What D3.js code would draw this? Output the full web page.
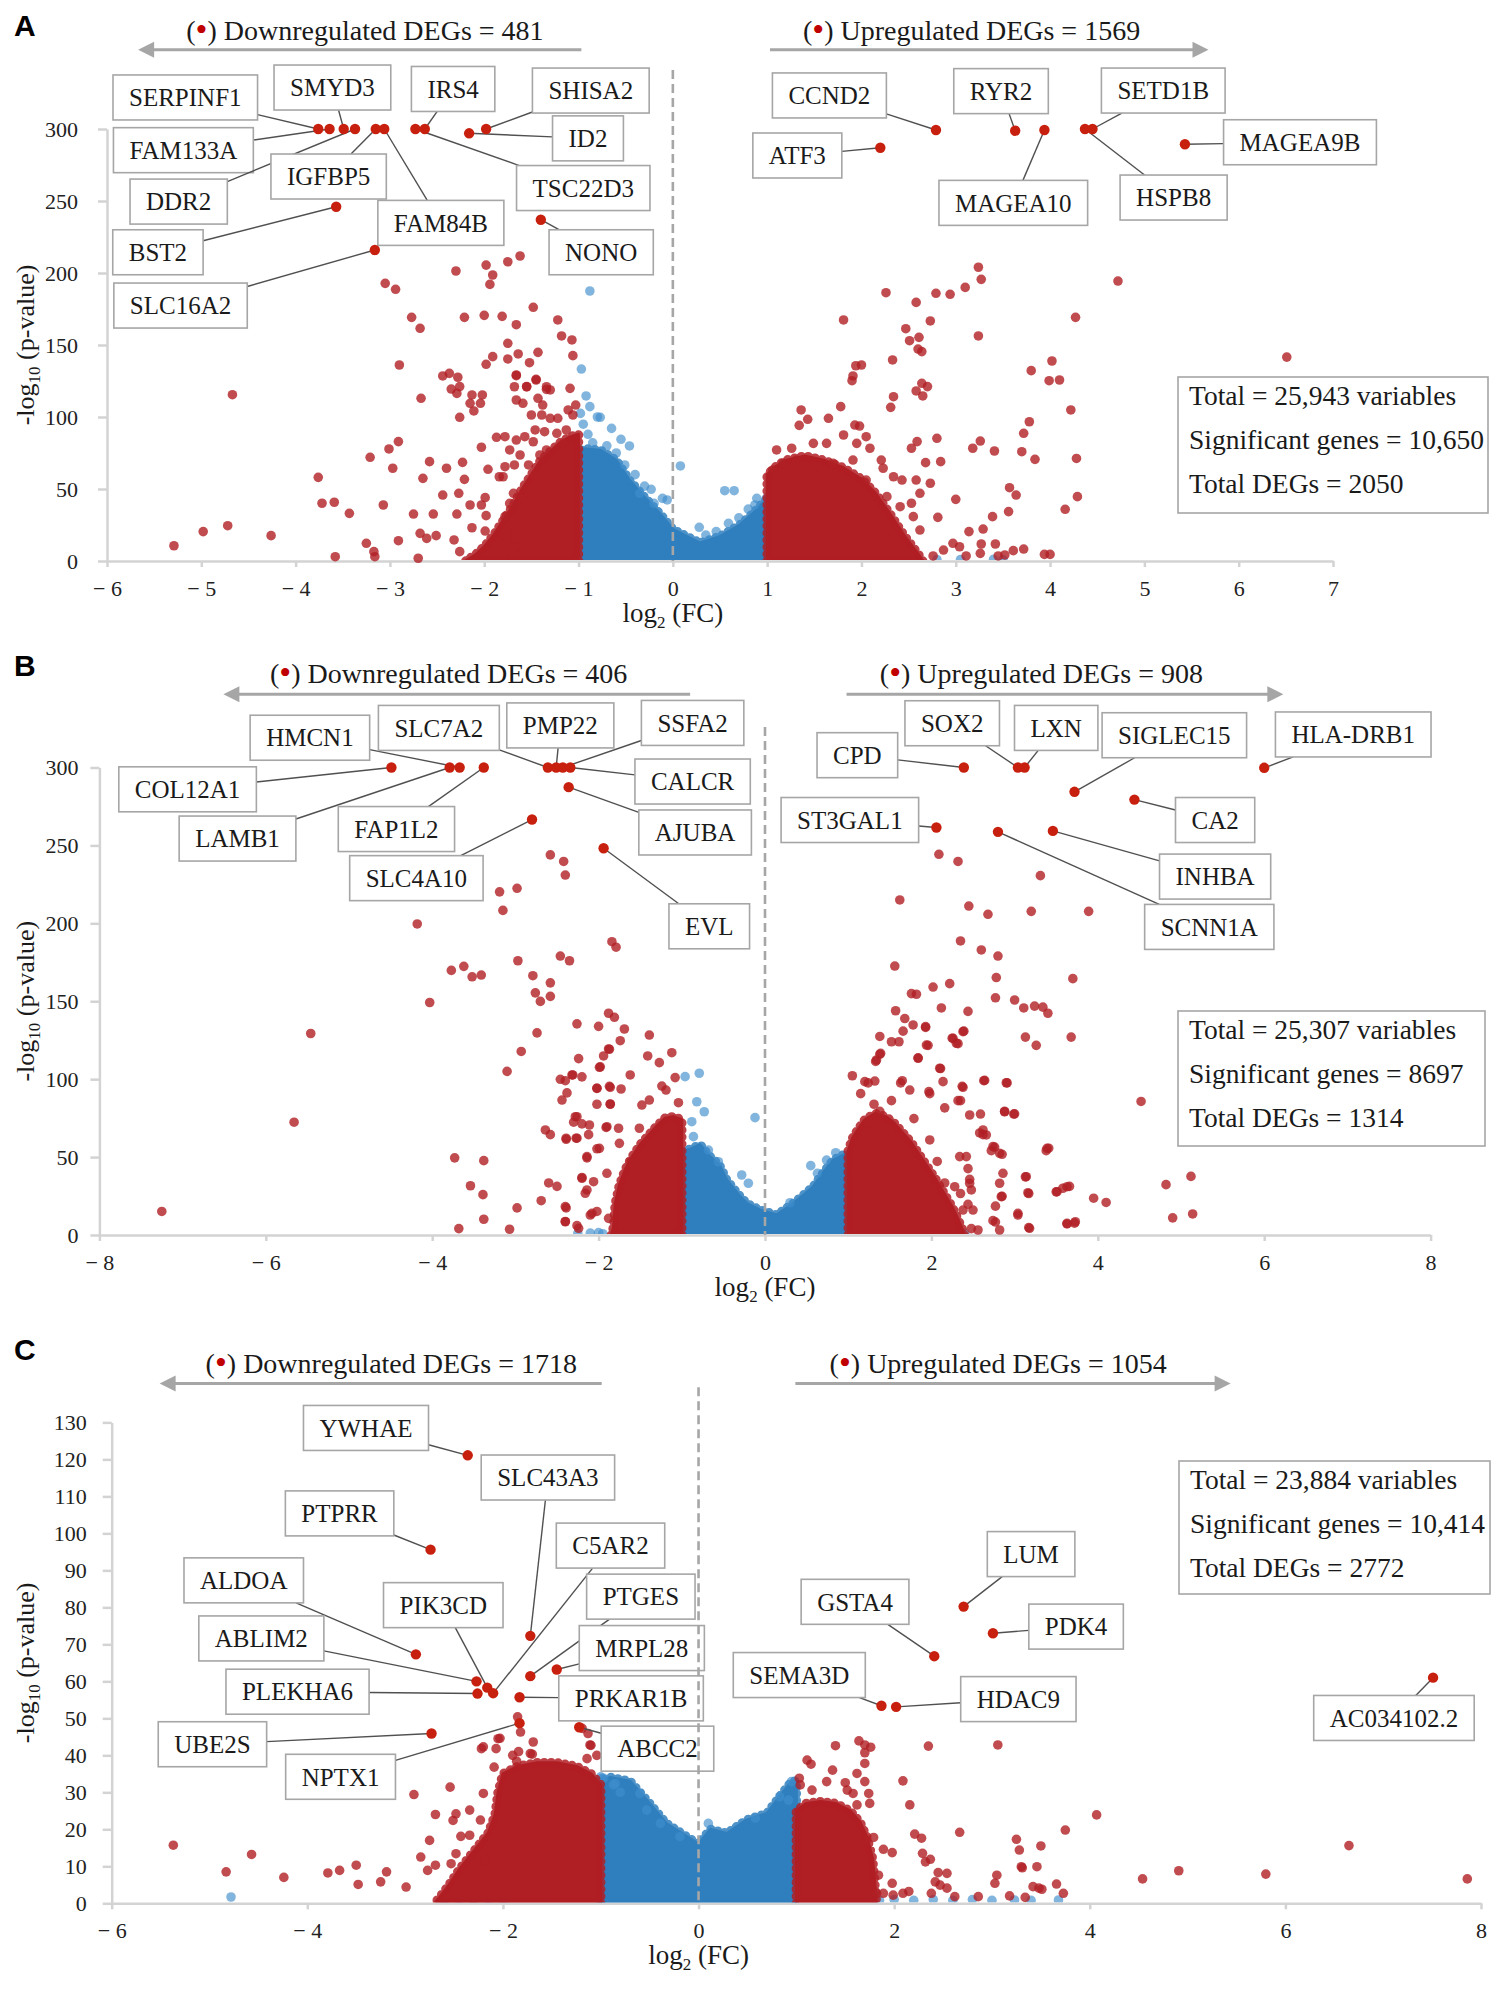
<!DOCTYPE html>
<html>
<head>
<meta charset="utf-8">
<script src="https://cdn.jsdelivr.net/npm/d3@7"></script>
<style>
  body { margin: 0; background: #fff; }
</style>
</head>
<body>
<svg id="chart" width="1507" height="1990"></svg>
<script>
// ---------------- panel A ----------------
var xDomainA = [-6, 7];
var yDomainA = [0, 300];
var xTicksA = [-6, -5, -4, -3, -2, -1, 0, 1, 2, 3, 4, 5, 6, 7];
var yTicksA = [0, 50, 100, 150, 200, 250, 300];
var titlesA = ["Downregulated DEGs = 481", "Upregulated DEGs = 1569"];
var titleAtA = [[-5.16, 362], [1.38, 362]];
var arrowsA = [[-0.97, -5.67, 355], [1.03, 5.68, 355]];
var statsA = ["Total = 25,943 variables", "Significant genes = 10,650", "Total DEGs = 2050"];
var dashTopA = 341;
var blueZoneA = [[-1, 0], [-1, 75], [-0.95, 78], [-0.77, 77], [-0.6, 70], [-0.46, 56], [-0.31, 45], [-0.14, 33], [0, 22],
  [0.15, 17], [0.29, 12.5], [0.5, 17], [0.71, 25], [0.85, 33], [0.98, 42], [1, 42], [1, 0]];
var redZoneLeftA = [[-1, 0], [-1, 88], [-1.1, 86], [-1.2, 82], [-1.3, 76], [-1.4, 70], [-1.5, 60], [-1.6, 50], [-1.7, 38],
  [-1.8, 28], [-1.9, 18], [-2.0, 10], [-2.1, 4], [-2.2, 0]];
var redZoneRightA = [[1, 0], [1, 60], [1.1, 66], [1.2, 70], [1.4, 73], [1.6, 70], [1.8, 65], [2.0, 57], [2.15, 47], [2.3, 33],
  [2.45, 18], [2.6, 5], [2.65, 0]];
var redDotsA = [[-3.05, 192.8], [-2.94, 188.7], [-2.77, 169.2], [-2.68, 161.6], [-2.90, 136.1], [-2.30, 201.4], [-1.98, 205.5],
  [-1.91, 198.6], [-1.94, 192.1], [-1.75, 207.8], [-1.62, 211.8], [-2.21, 169.2], [-2.00, 170.6], [-1.81, 169.9], [-1.66, 164.1],
  [-1.48, 176.2], [-1.22, 167.4], [-1.18, 156.3], [-1.07, 153.5], [-1.06, 142.6], [-1.75, 151.2], [-1.91, 141.9], [-1.98, 136.6],
  [-1.75, 140.3], [-1.64, 143.8], [-1.43, 144.9], [-1.52, 137.7], [-2.44, 128.5], [-2.37, 130.3], [-2.28, 127.6], [-2.35, 119.4],
  [-2.26, 121.1], [-2.29, 116.4], [-2.67, 113], [-2.13, 115.3], [-2.02, 115.3], [-2.15, 109.5], [-2.04, 109.5], [-2.11, 104.2],
  [-2.26, 99.8], [-1.66, 128.7], [-1.55, 121.1], [-1.45, 125.7], [-1.34, 119.2], [-1.09, 119.9], [-4.67, 115.5], [-2.91, 82.9],
  [-3.01, 77.8], [-3.21, 72], [-2.97, 64.4], [-2.58, 69], [-2.40, 64.4], [-2.23, 68.5], [-2.65, 57.4], [-2.21, 56.7], [-3.76, 58.1],
  [-3.72, 40.1], [-3.59, 40.8], [-3.43, 33.1], [-3.07, 38.9], [-2.75, 32.6], [-2.54, 32.6], [-2.44, 45.8], [-2.27, 47], [-2.29, 32.6],
  [-2.13, 23.1], [-2.68, 19.2], [-2.61, 15.7], [-2.51, 17.6], [-2.91, 14.1], [-2.32, 14.6], [-3.25, 12.3], [-3.17, 6.5], [-3.16, 3],
  [-3.58, 3], [-2.70, 1.9], [-4.26, 17.6], [-4.72, 24.5], [-4.98, 20.4], [-5.29, 10.6], [-2.03, 79], [-1.87, 85.9], [-1.96, 63.7],
  [-1.84, 58.5], [-1.99, 44], [-2.03, 38.9], [-2.15, 38.9], [-1.98, 31.5], [-1.99, 20.8], [-2.26, 6.5],
  [-1.66, 129.2], [-1.45, 126.2], [-1.68, 121], [-1.55, 121], [-1.34, 121], [-1.30, 118.8], [-1.66, 111.8], [-1.59, 109.5],
  [-1.43, 113], [-1.38, 108.3], [-1.03, 108.3], [-1.50, 101.4], [-1.39, 101.4], [-1.30, 99.1], [-1.22, 99.1], [-1.11, 104.9],
  [-1.06, 101.4], [-1.78, 86.3], [-1.66, 84], [-1.57, 86.3], [-1.46, 91], [-1.36, 89.8], [-1.23, 88.7], [-1.13, 91], [-1.48, 82.8],
  [-1.34, 77.1], [-1.41, 73.6], [-1.16, 81.7], [-1.73, 77.1], [-1.62, 73.6], [-1.78, 65.5], [-1.68, 66.7], [-1.53, 66.7],
  [-1.80, 58.5], [-1.46, 59.7], [-1.69, 47], [-1.60, 43.5], [-1.73, 40], [-1.62, 33.1], [-1.78, 30.8], [-1.69, 23.8], [-1.76, 16.9],
  [-1.68, 9.9], [-1.59, 5.3], [-1.80, 5.3],
  [3.24, 204], [3.27, 195.6], [3.10, 190], [2.94, 185.2], [2.79, 185.9], [2.26, 186.3], [2.58, 179.6], [2.73, 166.7], [1.81, 167.4],
  [2.47, 161.3], [2.51, 153], [2.61, 155.3], [2.60, 147.2], [2.64, 145.4], [3.24, 156.3], [2.33, 139.6], [1.94, 135.6], [2.00, 136.1],
  [1.91, 128.5], [1.90, 125.2], [2.64, 123.4], [2.70, 121.1], [2.58, 118.1], [2.65, 114.6], [2.34, 114.1], [2.31, 106.7], [1.78, 107.2],
  [1.36, 104.9], [1.43, 98.4], [1.34, 94.2], [1.65, 99.1], [1.93, 94.4], [1.98, 93.7], [4.27, 169.2], [4.02, 138.9], [3.80, 132.2],
  [3.99, 125.2], [4.10, 125.7], [4.22, 104.9], [3.78, 96.7], [3.72, 88.7], [3.70, 75.9], [3.84, 70.6], [3.41, 76.4], [3.26, 83.3],
  [3.18, 78.3], [2.80, 85.2], [2.59, 82.9], [2.53, 78.3], [2.68, 68.3], [2.84, 69], [3.57, 50.9], [3.64, 45.8], [4.29, 44.7],
  [4.16, 35.9], [3.56, 34.3], [3.39, 30.8], [3.00, 42.8], [2.81, 30.3], [3.29, 22.2], [3.14, 20.4], [2.97, 12.3], [3.04, 9.9],
  [3.27, 11.8], [3.42, 11.8], [3.61, 7.2], [3.72, 8.3], [2.76, 3.5], [2.87, 7.6], [3.11, 3.5], [3.45, 3.5], [3.52, 4.2], [3.94, 4.6],
  [4.00, 4.6], [3.26, 5.3], [4.72, 194.4], [6.51, 141.6], [4.28, 71.2],
  [1.10, 77.1], [1.26, 78.3], [1.49, 81.7], [1.63, 81.7], [1.81, 87.5], [1.95, 81.7], [2.05, 86.3], [2.09, 78.3], [2.21, 70.1],
  [2.23, 64.4], [2.34, 58.5], [2.43, 56.2], [1.70, 67.8], [1.49, 63.2], [1.31, 70.1], [1.91, 70.1], [2.05, 56.2], [2.27, 44.7],
  [2.41, 37.7], [2.55, 30.8], [2.62, 21.5], [2.58, 56.2], [2.73, 54], [2.62, 47], [2.53, 40.1], [1.54, 65.5], [1.06, 63.2], [1.17, 67.8]];
var blueDotsA = [[-0.88, 187.5], [-0.97, 133.3], [-0.92, 114.6], [-0.88, 107.2], [-0.77, 99.8], [-0.65, 92.1], [-0.55, 84.5],
  [-0.46, 79.9], [-0.51, 66.7], [-0.23, 49.8], [-0.35, 47], [-0.11, 43.5], [-0.06, 42.4], [0.08, 66], [0.55, 48.8], [0.65, 48.8],
  [0.28, 23.4], [0.46, 20.4], [0.59, 26.2], [0.87, 38.9], [0.89, 43.5], [0.99, 43.5], [-0.98, 102.5], [-0.8, 100], [-0.95, 95],
  [-0.9, 88], [-0.85, 82], [-0.7, 80], [-0.6, 75], [-0.4, 60], [-0.3, 52], [-0.2, 40], [0.35, 18], [0.7, 30], [0.8, 36],
  [-2.1, 1.2], [-2.0, 1.5], [-1.9, 1], [-1.75, 1.2], [-1.6, 1], [-1.5, 1.5], [2.8, 1], [3.05, 1], [3.4, 1.2], [3.5, 0.8]];
var genesA = ["SERPINF1", "FAM133A", "SMYD3", "DDR2", "IGFBP5", "FAM84B", "IRS4", "TSC22D3", "SHISA2", "ID2", "BST2",
  "SLC16A2", "NONO", "CCND2", "ATF3", "RYR2", "MAGEA10", "SETD1B", "HSPB8", "MAGEA9B"];
var geneDotsA = [[-3.76, 300], [-3.64, 300], [-3.49, 300], [-3.37, 300], [-3.15, 300], [-3.06, 300], [-2.63, 300], [-2.73, 300],
  [-1.98, 300], [-2.16, 297], [-3.57, 246], [-3.16, 216], [-1.40, 237], [2.79, 299.3], [2.20, 287], [3.63, 298.8], [3.94, 299.3],
  [4.45, 300], [4.37, 300], [5.43, 289.4]];
var geneBoxA = [[-5.17, 321.9], [-5.19, 285.3], [-3.61, 328.8], [-5.24, 249.6], [-3.65, 267], [-2.46, 234.8], [-2.33, 327.8],
  [-0.95, 259], [-0.87, 326.7], [-0.90, 293.5], [-5.46, 214.4], [-5.22, 177.4], [-0.76, 214.4], [1.66, 323.3], [1.32, 281.6],
  [3.48, 326.3], [3.61, 248.7], [5.20, 326.7], [5.31, 252.4], [6.65, 290.8]];

// ---------------- panel B ----------------
var xDomainB = [-8, 8];
var yDomainB = [0, 300];
var xTicksB = [-8, -6, -4, -2, 0, 2, 4, 6, 8];
var yTicksB = [0, 50, 100, 150, 200, 250, 300];
var titlesB = ["Downregulated DEGs = 406", "Upregulated DEGs = 908"];
var titleAtB = [[-5.95, 354], [1.38, 354]];
var arrowsB = [[-0.90, -6.51, 347], [0.98, 6.23, 347]];
var statsB = ["Total = 25,307 variables", "Significant genes = 8697", "Total DEGs = 1314"];
var dashTopB = 326;
var blueZoneB = [[-1, 0], [-1, 53.5], [-0.9, 55], [-0.78, 58], [-0.66, 50.3], [-0.55, 45], [-0.46, 35.3], [-0.32, 26], [-0.22, 20.3],
  [-0.06, 16], [0.14, 12.8], [0.34, 20.3], [0.45, 25], [0.58, 31], [0.7, 40], [0.82, 48.1], [0.94, 51.3], [1, 52], [1, 0]];
var redZoneLeftB = [[-1, 0], [-1, 74], [-1.1, 76], [-1.2, 75], [-1.3, 70], [-1.4, 64], [-1.5, 58], [-1.6, 50], [-1.68, 42],
  [-1.75, 32], [-1.8, 20], [-1.82, 5], [-1.85, 0]];
var redZoneRightB = [[1, 0], [1, 54], [1.05, 62], [1.12, 68], [1.2, 74], [1.32, 78], [1.45, 76], [1.55, 72], [1.65, 66], [1.75, 60],
  [1.85, 52], [1.95, 44], [2.05, 36], [2.15, 27], [2.25, 18], [2.33, 9], [2.4, 0]];
var redDotsB = [[-2.58, 243.9], [-2.42, 239.7], [-2.40, 231], [-3.19, 220.2], [-2.98, 222.5], [-3.15, 208.3], [-4.18, 199.6],
  [-1.84, 188.2], [-1.79, 184.7], [-2.46, 179], [-2.35, 176], [-2.97, 176], [-3.77, 169.8], [-3.52, 165.7], [-2.79, 166.4],
  [-2.58, 161.8], [-2.76, 155.4], [-2.58, 153.1], [-2.70, 149.9], [-4.03, 149.2], [-5.46, 129.3], [-1.88, 142.3], [-2.26, 135.5],
  [-2.00, 133.9], [-2.74, 129.7], [-2.93, 117.8], [-1.88, 119.4], [-2.24, 113.2], [-1.98, 107.9], [-3.10, 105], [-2.46, 99.9],
  [-2.31, 102.7], [-2.20, 101.5], [-2.38, 91.2], [-2.44, 86.6], [-2.02, 94.2], [-1.87, 95.4], [-2.02, 83.9], [-1.86, 83.9],
  [-2.26, 75.9], [-2.30, 72.4], [-2.20, 71.3], [-2.12, 64.4], [-1.91, 69], [-2.64, 67.4], [-2.58, 64.4], [-2.39, 61.4], [-2.27, 62.1],
  [-5.66, 72.4], [-3.73, 49.5], [-3.38, 47.7], [-3.54, 31.6], [-3.39, 25.9], [-2.98, 17.4], [-2.69, 22], [-2.39, 17.4], [-2.40, 8.7],
  [-3.38, 10.1], [-3.68, 4.1], [-3.07, 3.7], [-2.14, 49.5], [-2.02, 55.3], [-2.60, 33.4], [-2.50, 31.2], [-2.20, 36.9], [-2.14, 28.9],
  [-2.10, 12.8], [-2.02, 15.1], [-2.26, 6], [-7.25, 15.1],
  [-1.81, 139.7], [-1.69, 132.2], [-1.74, 124.7], [-1.39, 128.3], [-1.87, 119.2], [-1.94, 114.9], [-1.41, 114.9], [-1.27, 110.6],
  [-1.12, 117], [-1.99, 107.6], [-1.62, 102.7], [-1.08, 101], [-2.32, 102.7], [-2.02, 94.1], [-1.86, 94.8], [-1.73, 93.7],
  [-1.24, 95.6], [-1.19, 93], [-1.39, 86.6], [-1.48, 83.4], [-1.04, 84.9], [-1.86, 84.1], [-2.40, 99], [-2.28, 75.9], [-2.11, 70.6],
  [-1.90, 69.5], [-1.76, 68.5], [-1.51, 68.5], [-2.39, 62.1], [-2.26, 62.1], [-2.14, 50.3], [-1.99, 55.6], [-1.75, 58.8],
  [-1.61, 47], [-2.20, 36.4], [-2.06, 34.2], [-1.90, 39.6], [-2.16, 26.8], [-2.40, 18.2], [-2.08, 13.9], [-1.88, 10.7],
  [-2.40, 8.5], [-2.24, 4.3], [-3.62, 172.4], [-3.41, 166.8],
  [2.09, 244.3], [2.32, 239.7], [3.31, 230.6], [1.62, 215], [2.45, 211.1], [2.68, 205.8], [3.20, 207.7], [3.89, 207.7], [2.35, 188.7],
  [2.60, 182.9], [2.80, 179], [1.56, 172.6], [2.78, 165.2], [3.70, 164.5], [2.02, 159.1], [2.22, 161.3], [1.76, 154.9], [1.82, 154.5],
  [2.77, 152.2], [3.00, 150.8], [3.11, 145.7], [3.24, 146.9], [3.34, 146.2], [3.40, 142.3], [2.12, 145.7], [2.44, 143.5],
  [1.57, 143.9], [1.68, 138.9], [1.78, 134.8], [1.93, 133.2], [1.66, 130.8], [2.39, 130.8], [1.38, 127.4], [1.52, 124], [1.61, 124],
  [1.96, 121.7], [2.25, 126.3], [2.32, 122.8], [3.13, 127], [3.26, 121.7], [3.68, 127], [1.38, 116], [1.33, 111.4], [1.84, 113.7],
  [2.11, 106.8], [1.05, 102.2], [2.64, 99.2], [2.91, 97.6], [4.52, 85.7], [2.88, 79.3], [3.00, 77.7], [3.41, 55.7], [3.38, 54.1],
  [3.13, 37.3], [3.17, 26.6], [3.50, 27.7], [3.58, 30], [3.66, 31.2], [3.95, 23.6], [4.10, 20.9], [4.82, 32.3], [5.12, 37.6],
  [4.90, 11], [5.14, 13.5], [3.63, 7.1], [3.72, 7.6], [3.17, 4.8], [3.04, 12.8], [2.77, 18.5], [2.77, 8.3], [2.48, 4.1], [2.85, 24.8],
  [2.76, 56.4], [2.62, 64.4], [2.46, 77],
  [1.20, 98.4], [1.32, 98.8], [1.93, 133.7], [1.94, 121.9], [1.84, 113.4], [1.34, 112.3], [1.39, 116.6], [2.10, 107], [2.26, 126.2],
  [2.38, 130.5], [2.30, 123], [1.65, 99], [1.74, 93], [1.97, 92], [2.14, 98.4], [2.38, 94.8], [2.63, 99], [2.90, 97.7], [2.32, 86.2],
  [2.59, 77.6], [2.88, 79.1], [2.99, 77.6], [2.62, 67.4], [2.66, 64.2], [2.74, 56.7], [2.82, 52.4], [3.39, 55.6], [2.86, 39.6],
  [2.82, 33.2], [2.84, 24.6], [3.14, 37.4], [3.16, 27.1], [3.51, 27.8], [3.63, 31], [3.04, 13.9], [3.18, 4.3], [2.74, 9.2],
  [2.82, 3.2], [3.63, 7.5], [3.73, 8.5], [2.50, 16], [2.56, 3.2], [2.38, 16], [2.46, 33.2], [2.48, 28.9], [2.28, 31], [2.34, 50.3],
  [2.42, 50.3], [1.15, 90.7], [1.24, 97.6], [1.31, 83.9], [1.63, 97.6], [1.98, 90.7], [2.16, 81.6], [2.37, 95.4], [2.35, 86.2],
  [2.58, 65.5], [2.72, 54.1], [2.85, 51.8], [2.44, 42.6], [2.46, 35.7], [2.35, 26.6], [2.44, 19.7], [2.07, 47.2], [2.16, 33.4],
  [1.98, 61], [1.79, 74.7], [1.52, 86.2], [1.38, 79.3], [1.24, 72.4]];
var blueDotsB = [[-0.96, 101.6], [-0.79, 103.8], [-0.82, 85.5], [-0.73, 79.1], [-0.88, 72.7], [-0.86, 63.1], [-0.12, 75.3],
  [-0.28, 38.5], [-0.2, 33.2], [0.3, 20.7], [0.55, 44.5], [0.63, 39.6], [0.74, 48.1], [0.85, 52.8], [-0.56, 47], [-0.68, 54.5],
  [-2.25, 1], [-2.1, 1.2], [-1.95, 0.8], [-2.0, 1.5], [2.0, 1], [2.15, 1], [2.3, 1], [2.4, 0.8]];
var genesB = ["HMCN1", "COL12A1", "LAMB1", "SLC7A2", "FAP1L2", "SLC4A10", "PMP22", "SSFA2", "CALCR", "AJUBA", "EVL", "CPD",
  "SOX2", "LXN", "SIGLEC15", "HLA-DRB1", "CA2", "ST3GAL1", "SCNN1A", "INHBA"];
var geneDotsB = [[-3.67, 300], [-4.49, 300], [-3.79, 300], [-2.61, 300], [-3.38, 300], [-2.80, 266.6], [-2.51, 300], [-2.43, 300],
  [-2.34, 300], [-2.36, 287.4], [-1.94, 248.2], [2.39, 300], [3.04, 300], [3.12, 300], [3.72, 284.4], [6.0, 299.8], [4.44, 279.4],
  [2.06, 261.5], [2.80, 258.7], [3.46, 259.3]];
var geneBoxB = [[-5.47, 319.1], [-6.94, 286], [-6.34, 254.4], [-3.92, 325.4], [-4.43, 260.5], [-4.19, 229], [-2.46, 327],
  [-0.87, 328.6], [-0.87, 291], [-0.84, 258.3], [-0.67, 198.1], [1.11, 307.9], [2.25, 328.4], [3.50, 325.4], [4.92, 320.7],
  [7.07, 321.2], [5.41, 266.3], [1.02, 266.3], [5.34, 197.7], [5.41, 230]];

// ---------------- panel C ----------------
var xDomainC = [-6, 8];
var yDomainC = [0, 130];
var xTicksC = [-6, -4, -2, 0, 2, 4, 6, 8];
var yTicksC = [0, 10, 20, 30, 40, 50, 60, 70, 80, 90, 100, 110, 120, 130];
var titlesC = ["Downregulated DEGs = 1718", "Upregulated DEGs = 1054"];
var titleAtC = [[-5.04, 143.3], [1.34, 143.3]];
var arrowsC = [[-0.99, -5.51, 140.5], [0.99, 5.44, 140.5]];
var statsC = ["Total = 23,884 variables", "Significant genes = 10,414", "Total DEGs = 2772"];
var dashTopC = 139.5;
var blueZoneC = [[-1, 0], [-1, 33], [-0.9, 34], [-0.7, 33], [-0.5, 27], [-0.33, 21.6], [-0.15, 18.5], [0, 16], [0.12, 20],
  [0.29, 18.9], [0.49, 22.5], [0.7, 24.3], [0.84, 29.2], [0.95, 32.9], [1, 33], [1, 0]];
var redZoneLeftC = [[-1, 0], [-1, 32], [-1.1, 35], [-1.25, 37], [-1.45, 38], [-1.65, 38], [-1.85, 37], [-2.0, 35], [-2.05, 30],
  [-2.08, 24], [-2.15, 19], [-2.3, 14], [-2.45, 9], [-2.55, 5], [-2.65, 1.5], [-2.7, 0]];
var redZoneRightC = [[1, 0], [1, 25], [1.1, 27], [1.25, 27.5], [1.4, 27], [1.55, 25], [1.65, 22], [1.72, 18], [1.78, 12], [1.8, 6],
  [1.82, 0]];
var redDotsC = [[-5.37, 15.7], [-4.57, 13.2], [-4.83, 8.5], [-4.24, 7.0], [-3.79, 8.2], [-3.67, 8.9], [-3.5, 10.3], [-3.25, 5.8],
  [-2.91, 29.4], [-2.54, 31.4], [-2.69, 24], [-2.48, 24.2], [-2.51, 22.4], [-2.75, 17], [-2.43, 18.1], [-2.34, 18.4], [-2.84, 12.5],
  [-2.69, 10.3], [-2.48, 13.4], [-2.53, 10.7], [-2.99, 4.4], [-2.77, 8.9], [-2.17, 11.6], [-2.22, 41.8], [-2.05, 44.5],
  [-2.07, 41.8], [-2.09, 36.8], [-1.9, 40], [-1.86, 38.4], [-1.69, 43.6], [-1.70, 40.3], [-1.85, 50.4], [-1.82, 46.3],
  [-1.13, 45.9], [-1.10, 42.7], [-1.14, 39.1], [-1.04, 40], [-2.03, 44.6], [-2.2, 42.3], [-1.72, 40.5], [-1.84, 41],
  [-1.11, 42.8], [-1.19, 47.3], [-2.20, 29.7], [-2.34, 25.2], [-2.23, 22.5], [-3.48, 5.1], [-3.19, 8.5],
  [1.40, 42.6], [1.64, 43.9], [1.70, 42.8], [1.76, 42.2], [2.35, 42.5], [3.06, 42.8], [1.70, 40.7], [1.70, 37.8], [1.11, 38.7],
  [1.15, 37.6], [1.37, 36], [1.62, 35.1], [1.03, 33.8], [1.04, 32], [1.31, 32.9], [1.50, 32.6], [1.70, 32.9], [2.09, 33.1],
  [1.16, 30.6], [1.52, 30.6], [1.58, 29.7], [1.74, 29.7], [2.16, 26.6], [1.62, 26.6], [1.75, 27], [4.07, 23.9], [2.67, 19.2],
  [3.75, 19.8], [2.21, 18.7], [2.28, 17.6], [3.25, 17.3], [3.28, 14.4], [3.50, 15.5], [1.72, 17.1], [1.79, 17.8], [1.89, 14.6],
  [1.98, 13.7], [2.29, 13.5], [2.32, 11.2], [2.37, 11.9], [2.45, 8.3], [2.54, 8.1], [2.42, 5.8], [2.47, 4.9], [2.54, 4.1],
  [3.05, 7.6], [3.03, 5.4], [3.30, 9.9], [3.46, 9.9], [3.42, 4.5], [3.51, 3.8], [3.66, 5.2], [3.73, 2.7], [3.18, 2], [3.34, 1.6],
  [2.86, 1.8], [2.62, 1.8], [1.84, 7.6], [1.98, 5.4], [1.82, 2.7], [1.89, 2.7], [1.99, 2.2], [2.09, 2.7], [2.15, 3.2], [2.38, 2.7],
  [4.54, 6.6], [4.91, 8.8], [5.80, 7.9], [6.65, 15.6], [7.86, 6.6], [3.48, 4.1], [3.31, 9.6]];
var blueDotsC = [[-0.60, 29.7], [-0.99, 33.8], [-0.8, 30], [-0.53, 25.2], [-0.39, 21.6], [-0.19, 18], [0.10, 21.6], [0.58, 23],
  [0.83, 28.8], [0.92, 27.9], [0.95, 32.9], [-0.97, 33.8], [-0.85, 32.4], [-1.0, 34.2], [-0.87, 32], [-4.78, 1.7], [-2.6, 0.8],
  [-2.45, 1], [-2.3, 0.7], [-2.15, 1], [-2.0, 0.8], [1.85, 0.8], [2.0, 1], [2.2, 0.8], [2.4, 1], [2.6, 0.8], [2.8, 1], [3.0, 0.8],
  [3.23, 0.9], [3.4, 0.8], [3.68, 0.9]];
var genesC = ["YWHAE", "SLC43A3", "PTPRR", "ALDOA", "PIK3CD", "ABLIM2", "PLEKHA6", "UBE2S", "NPTX1", "C5AR2", "PTGES",
  "MRPL28", "PRKAR1B", "ABCC2", "LUM", "GSTA4", "PDK4", "SEMA3D", "HDAC9", "AC034102.2"];
var geneDotsC = [[-2.36, 121.1], [-1.72, 72.3], [-2.74, 95.6], [-2.89, 67.3], [-2.16, 58.3], [-2.27, 60], [-2.26, 56.7],
  [-2.73, 45.9], [-1.83, 48.7], [-2.10, 56.8], [-1.72, 61.4], [-1.45, 63.2], [-1.83, 55.7], [-1.22, 47.6], [2.71, 80.2],
  [2.41, 66.8], [3.01, 73], [1.87, 53.4], [2.02, 53.1], [7.51, 61]];
var geneBoxC = [[-3.40, 128.5], [-1.54, 115.1], [-3.67, 105.4], [-4.65, 87.3], [-2.61, 80.6], [-4.47, 71.6], [-4.10, 57.2],
  [-4.97, 43], [-3.66, 34.2], [-0.90, 96.7], [-0.59, 82.9], [-0.58, 69], [-0.69, 55.4], [-0.42, 41.8], [3.40, 94.4], [1.60, 81.5],
  [3.86, 74.8], [1.03, 61.7], [3.27, 55.2], [7.11, 50.1]];

// ---------------- drawing ----------------
var SERIF = '"Palatino Linotype","Book Antiqua",Palatino,"Liberation Serif","Times New Roman",serif';
var RED = "#b01f24", BLUE = "#2f7fbe", HOT = "#c8200e", GREY = "#a6a6a6";

var svg = d3.select("#chart");

function fmtTick(v) {
    return v < 0 ? "\u2212 " + Math.abs(v) : String(v);
}

var panels = [
    { name: "A", xr: [107, 1333], yr: [561, 129], letterY: 36, ypad: 20, stats: [1178, 377, 310, 136],
      xDomain: xDomainA, yDomain: yDomainA, xTicks: xTicksA, yTicks: yTicksA, titles: titlesA, titleAt: titleAtA,
      arrows: arrowsA, stats_text: statsA, dashTop: dashTopA, blueZone: blueZoneA, redZones: [redZoneLeftA, redZoneRightA],
      redDots: redDotsA, blueDots: blueDotsA, genes: genesA, geneDots: geneDotsA, geneBox: geneBoxA },
    { name: "B", xr: [99.4, 1430.6], yr: [1235, 767.5], letterY: 676, ypad: 12, stats: [1178, 1011, 307, 135],
      xDomain: xDomainB, yDomain: yDomainB, xTicks: xTicksB, yTicks: yTicksB, titles: titlesB, titleAt: titleAtB,
      arrows: arrowsB, stats_text: statsB, dashTop: dashTopB, blueZone: blueZoneB, redZones: [redZoneLeftB, redZoneRightB],
      redDots: redDotsB, blueDots: blueDotsB, genes: genesB, geneDots: geneDotsB, geneBox: geneBoxB },
    { name: "C", xr: [111.7, 1481], yr: [1903.3, 1422.4], letterY: 1360, ypad: 16, stats: [1179, 1461, 311, 133],
      xDomain: xDomainC, yDomain: yDomainC, xTicks: xTicksC, yTicks: yTicksC, titles: titlesC, titleAt: titleAtC,
      arrows: arrowsC, stats_text: statsC, dashTop: dashTopC, blueZone: blueZoneC, redZones: [redZoneLeftC, redZoneRightC],
      redDots: redDotsC, blueDots: blueDotsC, genes: genesC, geneDots: geneDotsC, geneBox: geneBoxC }
];

// a filled cloud with a beaded rim, so its edge reads like overlapping dots
function drawZone(parent, d, color) {
    parent.append("path").attr("d", d)
        .attr("fill", color).attr("stroke", color).attr("stroke-width", 3).attr("stroke-linejoin", "round");
    parent.append("path").attr("d", d)
        .attr("fill", "none").attr("stroke", color).attr("stroke-opacity", 0.85)
        .attr("stroke-width", 9.5).attr("stroke-linecap", "round")
        .attr("stroke-dasharray", "0,7");
}

function drawPanel(p) {
    var x = d3.scaleLinear().domain(p.xDomain).range(p.xr);
    var y = d3.scaleLinear().domain(p.yDomain).range(p.yr);
    var g = svg.append("g").attr("class", "panel-" + p.name);

    // panel letter
    g.append("text")
        .attr("x", 14).attr("y", p.letterY)
        .attr("font-family", '"Liberation Sans", Arial, sans-serif')
        .attr("font-weight", "bold").attr("font-size", 30)
        .text(p.name);

    // axes
    g.append("g")
        .attr("transform", "translate(0," + y(0) + ")")
        .call(d3.axisBottom(x).tickValues(p.xTicks).tickSize(6).tickSizeOuter(0).tickPadding(13).tickFormat(fmtTick));
    g.append("g")
        .attr("transform", "translate(" + x(p.xDomain[0]) + ",0)")
        .call(d3.axisLeft(y).tickValues(p.yTicks).tickSize(9).tickSizeOuter(0).tickPadding(p.ypad));
    g.selectAll(".domain, .tick line").attr("stroke", "#d3d3d3").attr("stroke-width", 2.5);
    g.selectAll(".tick text").attr("font-family", SERIF).attr("font-size", 22).attr("fill", "#222");

    // clipped density clouds
    var clipId = "clip" + p.name;
    g.append("clipPath").attr("id", clipId).append("rect")
        .attr("x", p.xr[0]).attr("y", 0)
        .attr("width", p.xr[1] - p.xr[0]).attr("height", y(0) - 1);
    var line = d3.line().x(d => x(d[0])).y(d => y(d[1]));
    var zones = g.append("g").attr("clip-path", "url(#" + clipId + ")");
    drawZone(zones, line(p.blueZone) + "Z", BLUE);
    zones.selectAll("circle.blue")
        .data(p.blueDots).enter().append("circle")
        .attr("class", "blue")
        .attr("cx", d => x(d[0])).attr("cy", d => y(d[1])).attr("r", 4.8)
        .attr("fill", "#3f8dcc").attr("fill-opacity", 0.65);
    p.redZones.forEach(function (z) {
        drawZone(zones, line(z) + "Z", RED);
    });
    g.append("g").selectAll("circle")
        .data(p.redDots).enter().append("circle")
        .attr("cx", d => x(d[0])).attr("cy", d => y(d[1])).attr("r", 4.8)
        .attr("fill", RED).attr("fill-opacity", 0.8);

    // gene labels
    var labs = g.append("g");
    p.genes.forEach(function (name, i) {
        var px = x(p.geneDots[i][0]), py = y(p.geneDots[i][1]);
        var cx = x(p.geneBox[i][0]), cy = y(p.geneBox[i][1]);
        var lg = labs.append("g");
        var ln = lg.append("line");
        var rect = lg.append("rect");
        var txt = lg.append("text")
            .attr("x", cx).attr("y", cy).attr("dy", "0.35em")
            .attr("text-anchor", "middle")
            .attr("font-family", SERIF).attr("font-size", 25).attr("fill", "#1a1a1a")
            .text(name);
        var w = txt.node().getComputedTextLength() + 32, h = 45;
        rect.attr("x", cx - w / 2).attr("y", cy - h / 2).attr("width", w).attr("height", h)
            .attr("fill", "#fff").attr("stroke", GREY).attr("stroke-width", 1.6);
        // leader line stops at the box border
        var dx = px - cx, dy = py - cy;
        var t = Math.min(Math.abs(dx) > 0 ? (w / 2) / Math.abs(dx) : 1e9, Math.abs(dy) > 0 ? (h / 2) / Math.abs(dy) : 1e9);
        ln.attr("x1", px).attr("y1", py).attr("x2", cx + dx * t).attr("y2", cy + dy * t)
            .attr("stroke", "#505050").attr("stroke-width", 1.4);
    });
    g.append("g").selectAll("circle")
        .data(p.geneDots).enter().append("circle")
        .attr("cx", d => x(d[0])).attr("cy", d => y(d[1])).attr("r", 5.2)
        .attr("fill", HOT);

    // dashed line at log2FC = 0
    g.append("line")
        .attr("x1", x(0)).attr("x2", x(0))
        .attr("y1", y(p.dashTop)).attr("y2", y(0))
        .attr("stroke", GREY).attr("stroke-width", 2.6).attr("stroke-dasharray", "9,5");

    // direction arrows and titles
    p.arrows.forEach(function (a) {
        var x1 = x(a[0]), x2 = x(a[1]), ay = y(a[2]);
        var dir = x2 > x1 ? 1 : -1;
        g.append("line").attr("x1", x1).attr("x2", x2 - dir * 12).attr("y1", ay).attr("y2", ay)
            .attr("stroke", GREY).attr("stroke-width", 3);
        g.append("path")
            .attr("d", "M" + x2 + "," + ay + "L" + (x2 - dir * 16) + "," + (ay - 8) + "L" + (x2 - dir * 16) + "," + (ay + 8) + "Z")
            .attr("fill", GREY);
    });
    p.titles.forEach(function (tt, i) {
        var tx = g.append("text")
            .attr("x", x(p.titleAt[i][0])).attr("y", y(p.titleAt[i][1]))
            .attr("font-family", SERIF).attr("font-size", 28).attr("fill", "#1a1a1a");
        tx.append("tspan").text("(");
        tx.append("tspan").attr("fill", "#c00000").attr("font-size", 34).attr("dy", 1).text("\u2022");
        tx.append("tspan").attr("dy", -1).text(") " + tt);
    });

    // stats box
    var s = p.stats;
    g.append("rect").attr("x", s[0]).attr("y", s[1]).attr("width", s[2]).attr("height", s[3])
        .attr("fill", "#fff").attr("stroke", GREY).attr("stroke-width", 1.6);
    p.stats_text.forEach(function (t, i) {
        g.append("text")
            .attr("x", s[0] + 11).attr("y", s[1] + 28 + i * 44)
            .attr("font-family", SERIF).attr("font-size", 27.5).attr("fill", "#1a1a1a")
            .text(t);
    });

    // axis titles
    var xt = g.append("text")
        .attr("x", x(0)).attr("y", y(0) + 61)
        .attr("text-anchor", "middle")
        .attr("font-family", SERIF).attr("font-size", 27).attr("fill", "#1a1a1a");
    xt.append("tspan").text("log");
    xt.append("tspan").attr("font-size", 17).attr("dy", 6).text("2");
    xt.append("tspan").attr("dy", -6).text(" (FC)");

    var midY = (p.yr[0] + p.yr[1]) / 2;
    var yt = g.append("text")
        .attr("transform", "translate(34," + midY + ") rotate(-90)")
        .attr("text-anchor", "middle")
        .attr("font-family", SERIF).attr("font-size", 26).attr("fill", "#1a1a1a");
    yt.append("tspan").text("-log");
    yt.append("tspan").attr("font-size", 17).attr("dy", 6).text("10");
    yt.append("tspan").attr("dy", -6).text(" (p-value)");
}

panels.forEach(drawPanel);
</script>
</body>
</html>
